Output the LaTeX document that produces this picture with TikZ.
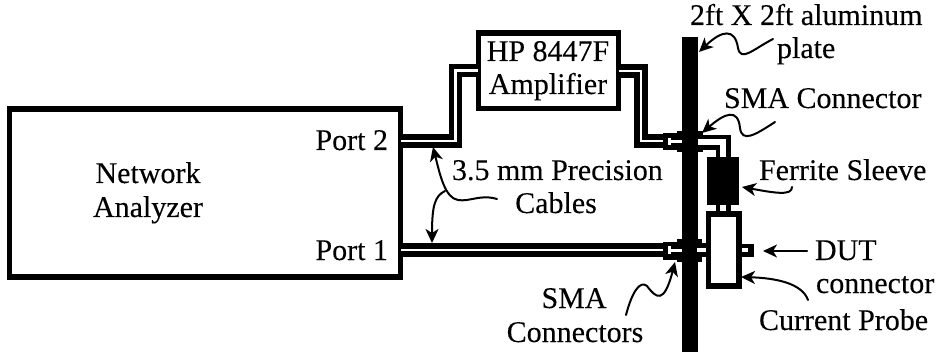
\documentclass[tikz,border=0pt]{standalone}
\usepackage{fontspec}
\setmainfont{Liberation Serif}
\usetikzlibrary{arrows.meta}
\tikzset{
  lbl/.style={inner sep=0pt,outer sep=0pt,font=\fontsize{30}{30}\selectfont\addfontfeature{FakeBold=0.15},text=black},
  boxx/.style={draw=black,line width=5.2pt,fill=white,outer sep=0pt,inner sep=0pt,anchor=north west},
  outerc/.style={draw=black,line width=13.5pt,miter limit=10},
  innerc/.style={draw=white,line width=2.8pt,miter limit=10},
  lead/.style={draw=black,line width=2pt,line cap=round,-{Stealth[length=14pt,width=13pt,inset=4pt]}},
  blk/.style={fill=black,draw=none}
}
\begin{document}
\begin{tikzpicture}[x=1pt,y=-1pt]
\useasboundingbox (0,0) rectangle (936,355);
% boxes
\node[boxx,minimum width=391pt,minimum height=168pt] (na) at (9.5,109) {};
\node[boxx,minimum width=140pt,minimum height=75.5pt] (amp) at (478.5,33) {};
% anchors for cables
\coordinate (p2) at (401,141);
\coordinate (p1) at (401,250);
\coordinate (a1) at (478,70.5);
\coordinate (a2) at (619,71);
\coordinate (c2) at (672,141);
\coordinate (c1) at (672,250);
% cables
\draw[outerc] (p2) -- (455.5,141) -- (455.5,70.5) -- (a1);
\draw[innerc] (p2) -- (455.5,141) -- (455.5,70.5) -- (a1);
\draw[outerc] (a2) -- (641,71) -- (641,141) -- (c2);
\draw[innerc] (a2) -- (641,71) -- (641,141) -- (c2);
\draw[outerc] (p1) -- (c1);
\draw[innerc] (p1) -- (c1);
% plate
\path[blk] (681.5,37) rectangle (697.5,352);
% SMA connectors
\path[blk] (663,133) rectangle (677,150);
\path[blk] (677,131) rectangle (703,152);
\path[blk] (663,242) rectangle (677,260);
\path[blk] (677,239) rectangle (702,262);
\path[fill=white] (668,138) rectangle (671,145);
\path[fill=white] (671,140) rectangle (682,143);
\path[fill=white] (668,246) rectangle (671,254);
\path[fill=white] (671,248.5) rectangle (682,251.5);
% cable to ferrite and probe
\coordinate (s2) at (700,142.5);
\coordinate (fe) at (723,160);
\draw[outerc,line width=15pt] (s2) -- (723,142.5) -- (fe);
\draw[draw=white,line width=6pt,miter limit=10] (698,142.5) -- (723,142.5) -- (fe);
\node[blk,minimum width=32pt,minimum height=48pt,anchor=north west,inner sep=0pt,outer sep=0pt] (fer) at (707,157) {};
\draw[black,line width=15pt] (723,205) -- (723,214);
\draw[white,line width=6pt] (723,205) -- (723,214);
\draw[black,line width=13pt] (700,250) -- (708,250);
\draw[white,line width=4pt] (697,250) -- (708,250);
% DUT stub
\path[blk] (739,244) rectangle (754,257);
\path[fill=white] (741,248) rectangle (748,252);
\node[boxx,minimum width=30.5pt,minimum height=72pt] (probe) at (708.5,214) {};
% labels
\node[lbl,anchor=base] (t1) at (148,183) {Network};
\node[lbl,anchor=base] (t2) at (148,217) {Analyzer};
\node[lbl,anchor=base east] (t3) at (388,150) {Port 2};
\node[lbl,anchor=base east] (t4) at (388,260) {Port 1};
\node[lbl,anchor=base] (t5) at (548,61) {HP 8447F};
\node[lbl,anchor=base] (t6) at (548,94) {Amplifier};
\node[lbl,anchor=base west] (t7) at (452,180) {3.5 mm Precision};
\node[lbl,anchor=base] (t8) at (556,213) {Cables};
\node[lbl,anchor=base west] (t9) at (690,25) {2ft X 2ft aluminum};
\node[lbl,anchor=base west] (t10) at (777,58) {plate};
\node[lbl,anchor=base west] (t11) at (724,108) {SMA Connector};
\node[lbl,anchor=base west] (t12) at (759,180) {Ferrite Sleeve};
\node[lbl,anchor=base west] (t13) at (815,260) {DUT};
\node[lbl,anchor=base west] (t14) at (816,293) {connector};
\node[lbl,anchor=base west] (t15) at (759,330) {Current Probe};
\node[lbl,anchor=base] (t16) at (574,308) {SMA};
\node[lbl,anchor=base] (t17) at (575,342) {Connectors};
% leaders
\coordinate (lp) at (773,39);
\draw[lead] (lp) .. controls (752,50) and (741,62) .. (738,48) .. controls (735,28) and (722,30) .. (699,52);
\coordinate (ls) at (775,122);
\draw[lead] (ls) .. controls (755,135) and (742,143) .. (740,128) .. controls (738,108) and (725,113) .. (702,133);
\coordinate (lf) at (792,187);
\draw[lead] (lf) .. controls (792,196) and (775,193) .. (742,187);
\coordinate (ld) at (807,251);
\draw[lead] (ld) -- (763,251);
\coordinate (lc) at (808,300);
\draw[lead] (lc) .. controls (802,283) and (775,278) .. (741,277);
\coordinate (lm) at (626,315);
\draw[lead] (lm) .. controls (632,292) and (640,280) .. (647,286) .. controls (656,298) and (664,305) .. (675,262);
\coordinate (lt) at (497,199);
\coordinate (lb) at (445,191);
\draw[lead] (lt) .. controls (480,194) and (470,202) .. (458,200) .. controls (445,198) and (440,175) .. (433,147);
\draw[lead] (lb) .. controls (435,196) and (432,205) .. (432,243);
\end{tikzpicture}
\end{document}
